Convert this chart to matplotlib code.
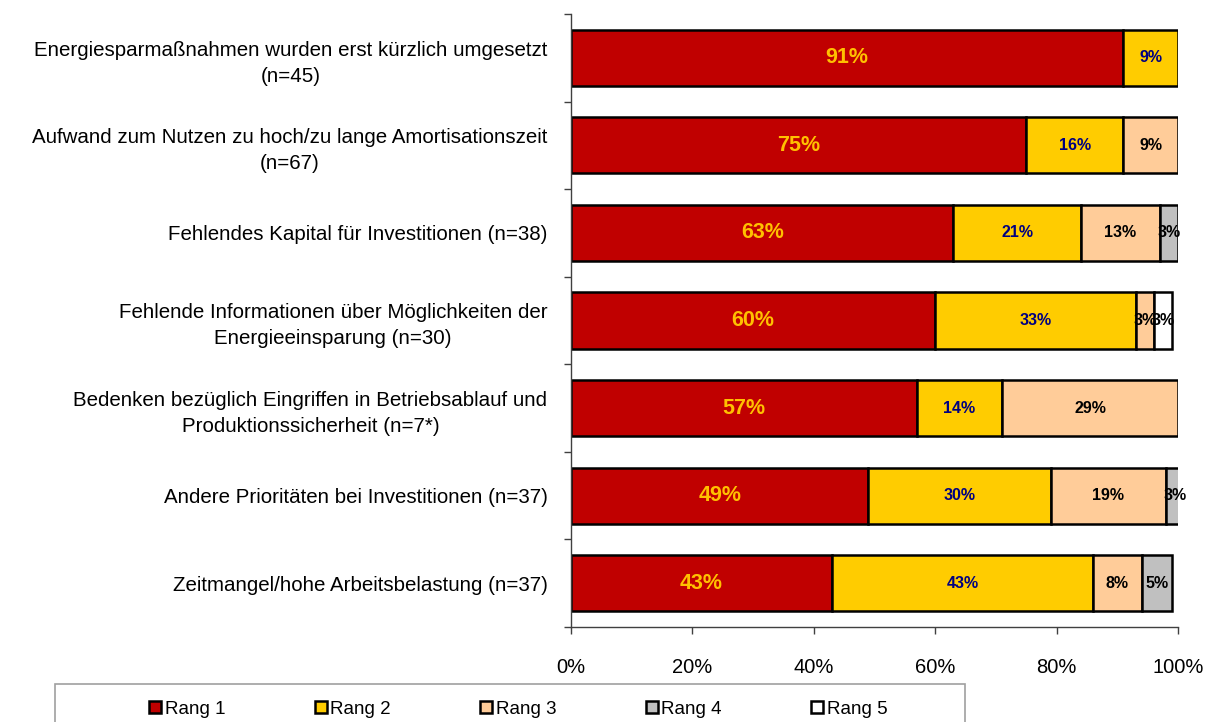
import matplotlib

matplotlib.use("Agg")
import matplotlib.pyplot as plt
import numpy as np
from matplotlib.lines import Line2D
from matplotlib.patches import Rectangle

plt.rcParams["font.family"] = ["Liberation Sans", "DejaVu Sans"]

categories = [
    "Energiesparmaßnahmen wurden erst kürzlich umgesetzt\n(n=45)",
    "Aufwand zum Nutzen zu hoch/zu lange Amortisationszeit\n(n=67)",
    "Fehlendes Kapital für Investitionen (n=38)",
    "Fehlende Informationen über Möglichkeiten der\nEnergieeinsparung (n=30)",
    "Bedenken bezüglich Eingriffen in Betriebsablauf und\nProduktionssicherheit (n=7*)",
    "Andere Prioritäten bei Investitionen (n=37)",
    "Zeitmangel/hohe Arbeitsbelastung (n=37)",
]
series_names = ["Rang 1", "Rang 2", "Rang 3", "Rang 4", "Rang 5"]
rang1 = [91, 75, 63, 60, 57, 49, 43]
rang2 = [9, 16, 21, 33, 14, 30, 43]
rang3 = [0, 9, 13, 3, 29, 19, 8]
rang4 = [0, 0, 3, 0, 0, 3, 5]
rang5 = [0, 0, 0, 3, 0, 0, 0]
x_ticks = [0, 20, 40, 60, 80, 100]

colors = ["#C00000", "#FFCC00", "#FFCC99", "#C0C0C0", "#FFFFFF"]
label_colors = ["#FFC000", "#000080", "black", "black", "black"]
label_sizes = [15.5, 11.5, 11.5, 11.5, 11.5]

fig = plt.figure(figsize=(12.08, 7.22), dpi=100)
ax = fig.add_axes([0.4727, 0.1316, 0.5025, 0.849])

y = np.arange(len(categories))
left = np.zeros(len(categories))
for name, vals, col, lc, ls in zip(series_names, [rang1, rang2, rang3, rang4, rang5],
                                    colors, label_colors, label_sizes):
    vals = np.array(vals, dtype=float)
    mask = vals > 0
    ax.barh(y[mask], vals[mask], left=left[mask], height=0.64, color=col,
            edgecolor="black", linewidth=1.8, label=name, zorder=2)
    for yi, v, l in zip(y[mask], vals[mask], left[mask]):
        ax.text(l + v / 2, yi, f"{int(v)}%", ha="center", va="center",
                color=lc, fontsize=ls, fontweight="bold", zorder=3)
    left += vals

ax.set_xlim(0, 100)
ax.set_ylim(len(categories) - 0.5, -0.5)
ax.set_xticks(x_ticks)
ax.set_xticklabels([f"{t}%" for t in x_ticks], fontsize=14.5)
ax.tick_params(axis="x", length=5, width=1, color="#404040", pad=17)

ax.set_yticks(y)
ax.set_yticklabels(categories, fontsize=14.8)
for lab in ax.get_yticklabels():
    lab.set_multialignment("center")
    lab.set_linespacing(1.45)
ax.tick_params(axis="y", which="major", length=0, pad=17)
ax.set_yticks(np.arange(-0.5, len(categories)), minor=True)
ax.tick_params(axis="y", which="minor", length=5, width=1, color="#404040")

for s in ["top", "right"]:
    ax.spines[s].set_visible(False)
for s in ["left", "bottom"]:
    ax.spines[s].set_color("#404040")
    ax.spines[s].set_linewidth(1)

# legend box (cut by the figure bottom like the reference)
fig.patches.append(Rectangle((55 / 1208, -0.05), 910 / 1208, 0.05 + 38 / 722,
                             transform=fig.transFigure, fill=False,
                             edgecolor="#A0A0A0", linewidth=1.2))
handles = [Line2D([], [], marker="s", linestyle="none", markersize=8,
                  markerfacecolor=c, markeredgecolor="black", markeredgewidth=1.8)
           for c in colors]
fig.legend(handles, series_names, loc="center", bbox_to_anchor=(518 / 1208, 1 - 709 / 722),
           ncol=5, frameon=False, fontsize=13.5, handlelength=0.7, handletextpad=0.15,
           columnspacing=4.75)

fig.savefig("out.png", dpi=100)
